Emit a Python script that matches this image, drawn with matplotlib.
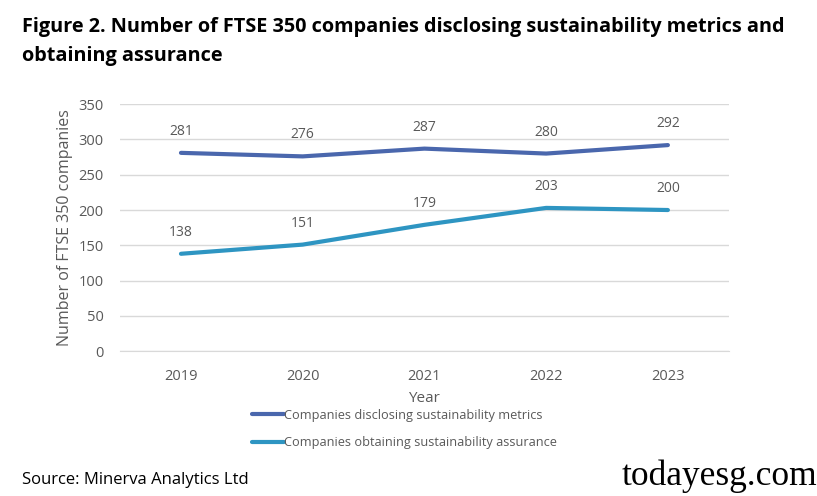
import matplotlib.pyplot as plt

# data
years = ["2019", "2020", "2021", "2022", "2023"]
disclosing = [281, 276, 287, 280, 292]
assurance = [138, 151, 179, 203, 200]
series_names = ["Companies disclosing sustainability metrics",
                "Companies obtaining sustainability assurance"]
y_ticks = [0, 50, 100, 150, 200, 250, 300, 350]

COL_DISC = "#4a67ad"
COL_ASSU = "#2e95c2"
GREY = "#595959"

plt.rcParams['font.family'] = ['Open Sans', 'DejaVu Sans']

fig = plt.figure(figsize=(8.17, 4.96), dpi=100)
ax = fig.add_axes([0.147, 0.292, 0.745, 0.498])

x = list(range(len(years)))
l1, = ax.plot(x, disclosing, color=COL_DISC, lw=3, solid_capstyle='round')
l2, = ax.plot(x, assurance, color=COL_ASSU, lw=3, solid_capstyle='round')

for xi, v in zip(x, disclosing):
    ax.annotate(str(v), (xi, v), xytext=(0, 10), textcoords='offset points',
                ha='center', va='bottom', fontsize=10, color=GREY)
for xi, v in zip(x, assurance):
    ax.annotate(str(v), (xi, v), xytext=(0, 10), textcoords='offset points',
                ha='center', va='bottom', fontsize=10, color=GREY)

ax.set_xlim(-0.5, len(years) - 0.5)
ax.set_ylim(0, 350)
ax.set_yticks(y_ticks)
ax.set_xticks(x)
ax.set_xticklabels(years)
ax.tick_params(axis='both', length=0, labelsize=10.5, colors=GREY)
ax.tick_params(axis='y', pad=12)
ax.tick_params(axis='x', pad=13)
ax.grid(axis='y', color='#d9d9d9', lw=1)
ax.set_axisbelow(True)
for s in ['top', 'right', 'left']:
    ax.spines[s].set_visible(False)
ax.spines['bottom'].set_color('#d9d9d9')

ax.set_ylabel("Number of FTSE 350 companies", fontsize=11.5, color=GREY, labelpad=4)
ax.set_xlabel("Year", fontsize=11, color=GREY, labelpad=5)

fig.legend([l1, l2], series_names, loc='upper left', bbox_to_anchor=(0.308, 0.176),
           frameon=False, fontsize=9.2, labelcolor=GREY, handlelength=2.5,
           handletextpad=0.0, labelspacing=1.15, borderaxespad=0, borderpad=0)

fig.text(0.027, 0.965, "Figure 2. Number of FTSE 350 companies disclosing sustainability metrics and\nobtaining assurance",
         fontsize=14.3, fontweight='bold', va='top', ha='left', linespacing=1.6)
fig.text(0.027, 0.033, "Source: Minerva Analytics Ltd", fontsize=12, va='center', ha='left')
fig.text(1.0, 0.04, "todayesg.com", fontsize=25.5, family='Liberation Serif',
         va='center', ha='right')

fig.savefig("out.png", dpi=100)
